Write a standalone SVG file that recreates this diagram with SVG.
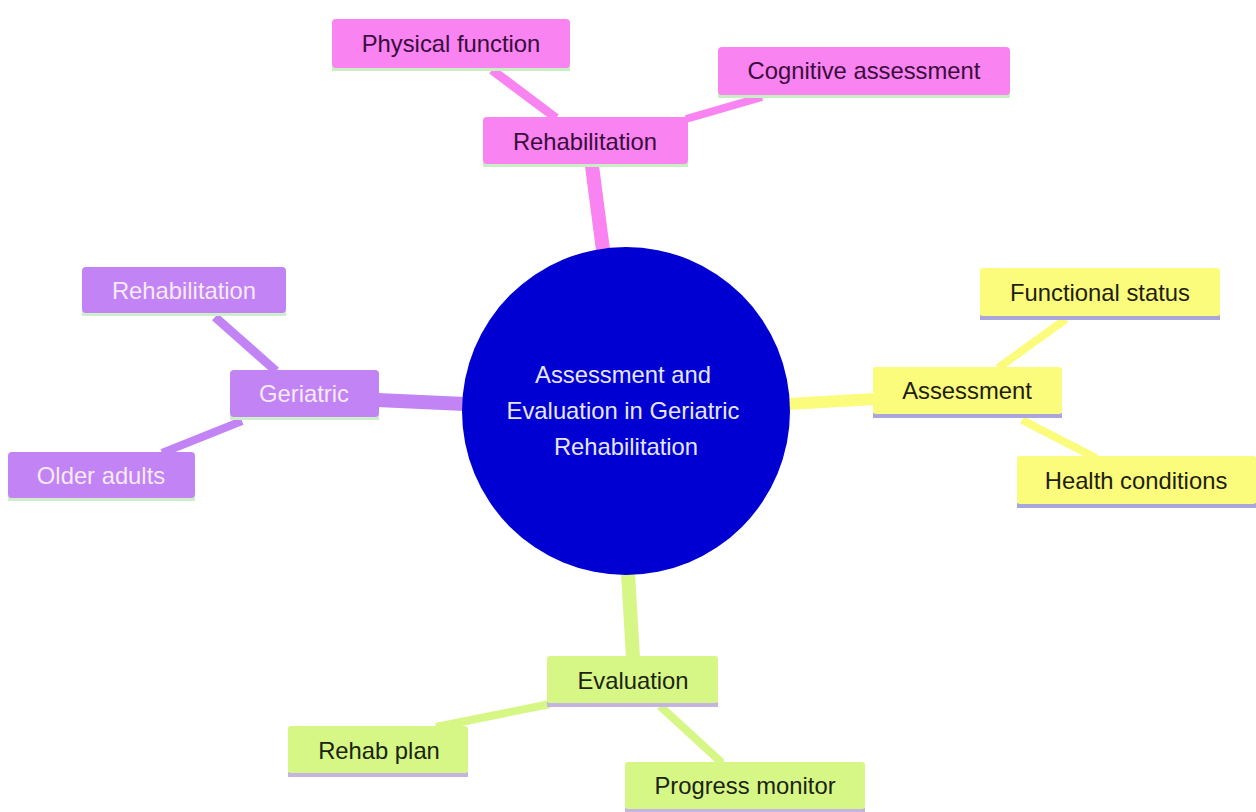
<svg xmlns="http://www.w3.org/2000/svg" width="1256" height="812" viewBox="0 0 1256 812">
<style>
text{font-family:"Liberation Sans",Arial,sans-serif;font-size:23.8px;text-anchor:middle;dominant-baseline:central}
.pk rect.b{fill:#f883f1}.pk rect.u{fill:#c8efc4}.pk text{fill:#3a0c3c}
.pu rect.b{fill:#c283f4}.pu rect.u{fill:#cdeec8}.pu text{fill:#f6eaf6}
.ye rect.b{fill:#fbfb7c}.ye rect.u{fill:#a9a6dc}.ye text{fill:#1e1e10}
.gr rect.b{fill:#d6f786}.gr rect.u{fill:#c4b4e0}.gr text{fill:#1a2410}
.c line{stroke-linecap:butt}
</style>
<rect width="1256" height="812" fill="#ffffff"/>
<g id="connectors" class="c">
<line x1="603" y1="250" x2="592" y2="166" stroke="#f883f1" stroke-width="14"/>
<line x1="556" y1="118" x2="492" y2="70" stroke="#f883f1" stroke-width="9"/>
<line x1="686" y1="119" x2="762" y2="97" stroke="#f883f1" stroke-width="8"/>
<line x1="377" y1="400" x2="465" y2="404" stroke="#c283f4" stroke-width="14"/>
<line x1="276" y1="371" x2="215" y2="317" stroke="#c283f4" stroke-width="9"/>
<line x1="242" y1="421" x2="162" y2="453" stroke="#c283f4" stroke-width="8"/>
<line x1="788" y1="404" x2="875" y2="399" stroke="#fbfb7c" stroke-width="12"/>
<line x1="998" y1="368" x2="1066" y2="319" stroke="#fbfb7c" stroke-width="8"/>
<line x1="1022" y1="420" x2="1096" y2="458" stroke="#fbfb7c" stroke-width="8"/>
<line x1="628" y1="573" x2="633" y2="658" stroke="#d6f786" stroke-width="14"/>
<line x1="550" y1="704" x2="436" y2="727" stroke="#d6f786" stroke-width="8"/>
<line x1="660" y1="706" x2="722" y2="763" stroke="#d6f786" stroke-width="8"/>
</g>
<g id="center">
<circle cx="626" cy="411" r="164" fill="#0000d2"/>
<text x="623" y="374" fill="#e6e6f6" font-size="22.8">Assessment and</text>
<text x="623" y="410" fill="#e6e6f6" font-size="22.8">Evaluation in Geriatric</text>
<text x="626" y="446" fill="#e6e6f6" font-size="22.8">Rehabilitation</text>
</g>
<g id="rehab" class="pk"><rect class="u" x="483" y="162" width="205" height="5"/><rect class="b" x="483" y="117" width="205" height="47" rx="4"/><text x="585" y="141">Rehabilitation</text></g>
<g id="physical" class="pk"><rect class="u" x="332" y="66" width="238" height="5"/><rect class="b" x="332" y="19" width="238" height="49" rx="4"/><text x="451" y="43">Physical function</text></g>
<g id="cognitive" class="pk"><rect class="u" x="718" y="93" width="292" height="5"/><rect class="b" x="718" y="47" width="292" height="48" rx="4"/><text x="864" y="70">Cognitive assessment</text></g>
<g id="geriatric" class="pu"><rect class="u" x="230" y="415" width="149" height="5"/><rect class="b" x="230" y="370" width="149" height="47" rx="4"/><text x="304" y="393">Geriatric</text></g>
<g id="rehab2" class="pu"><rect class="u" x="82" y="311" width="204" height="5"/><rect class="b" x="82" y="267" width="204" height="46" rx="4"/><text x="184" y="290">Rehabilitation</text></g>
<g id="older" class="pu"><rect class="u" x="8" y="496" width="187" height="5"/><rect class="b" x="8" y="452" width="187" height="46" rx="4"/><text x="101" y="475">Older adults</text></g>
<g id="assessment" class="ye"><rect class="u" x="873" y="413" width="189" height="5"/><rect class="b" x="873" y="367" width="189" height="47" rx="3"/><text x="967" y="390">Assessment</text></g>
<g id="functional" class="ye"><rect class="u" x="980" y="315" width="240" height="5"/><rect class="b" x="980" y="268" width="240" height="48" rx="3"/><text x="1100" y="292">Functional status</text></g>
<g id="health" class="ye"><rect class="u" x="1017" y="503" width="239" height="5"/><rect class="b" x="1017" y="456" width="239" height="48" rx="3"/><text x="1136" y="480">Health conditions</text></g>
<g id="evaluation" class="gr"><rect class="u" x="547" y="702" width="171" height="5"/><rect class="b" x="547" y="656" width="171" height="47" rx="3"/><text x="633" y="680">Evaluation</text></g>
<g id="rehabplan" class="gr"><rect class="u" x="288" y="772" width="180" height="5"/><rect class="b" x="288" y="726" width="180" height="47" rx="3"/><text x="379" y="750">Rehab plan</text></g>
<g id="progress" class="gr"><rect class="u" x="625" y="808" width="240" height="5"/><rect class="b" x="625" y="762" width="240" height="47" rx="3"/><text x="745" y="785">Progress monitor</text></g>
</svg>
